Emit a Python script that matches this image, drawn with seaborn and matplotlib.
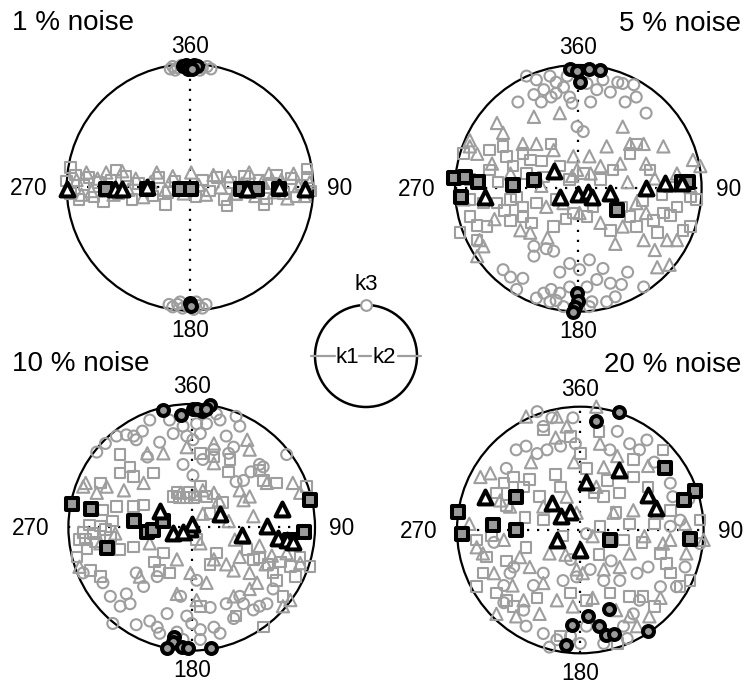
import numpy as np
import matplotlib
matplotlib.use("Agg")
import matplotlib.pyplot as plt
import seaborn as sns
from matplotlib.patches import Circle

# ---------------- data (equal-area projection coordinates, unit circle) ----------------
TITLES = ["1 % noise", "5 % noise", "10 % noise", "20 % noise"]
AZ_TOP, AZ_RIGHT, AZ_BOTTOM, AZ_LEFT = "360", "90", "180", "270"
LEGEND_K1, LEGEND_K2, LEGEND_K3 = "k1", "k2", "k3"

# Panel 1 (1 % noise)
P1_GRAY_CIRCLES = [(-0.14, 0.98), (-0.10, 0.97), (-0.07, 0.99), (-0.03, 0.98), (0.02, 0.97),
                   (0.06, 0.99), (0.10, 0.97), (0.14, 0.98), (-0.12, 0.95), (0.08, 0.95),
                   (0.17, 0.96), (-0.16, 0.96),
                   (-0.14, -0.97), (-0.10, -0.95), (-0.06, -0.98), (-0.02, -0.96), (0.03, -0.99),
                   (0.07, -0.96), (0.10, -0.98), (-0.08, -0.93), (0.05, -0.93), (0.13, -0.95),
                   (-0.17, -0.95)]
P1_GRAY_SQUARES = [(-1.0, 0.05), (-0.97, -0.05), (-0.93, 0.10), (-0.90, -0.10), (-0.86, 0.02),
                   (-0.82, 0.08), (-0.78, -0.08), (-0.74, 0.04), (-0.70, -0.12), (-0.64, 0.06),
                   (-0.58, -0.05), (-0.52, 0.09), (-0.47, -0.10), (-0.42, 0.03), (-0.30, -0.07),
                   (-0.25, 0.08), (-0.18, -0.04), (-0.12, 0.05), (0.05, -0.08), (0.10, 0.06),
                   (0.16, -0.03), (0.22, 0.08), (0.28, -0.10), (0.33, 0.04), (0.38, -0.06),
                   (0.44, 0.09), (0.50, -0.04), (0.56, 0.06), (0.62, -0.09), (0.66, 0.03),
                   (0.70, 0.10), (0.76, -0.05), (0.82, 0.07), (0.86, -0.08), (0.90, 0.02),
                   (0.95, 0.08), (0.98, -0.03), (-0.97, 0.16), (0.95, 0.15), (-0.20, -0.14),
                   (0.30, -0.15), (-0.60, 0.14), (0.60, -0.14)]
P1_GRAY_TRIANGLES = [(-0.98, -0.02), (-0.92, 0.06), (-0.88, -0.06), (-0.84, 0.12), (-0.80, -0.03),
                     (-0.75, 0.07), (-0.68, 0.12), (-0.62, -0.06), (-0.55, 0.13), (-0.50, -0.02),
                     (-0.44, 0.07), (-0.38, -0.08), (-0.32, 0.04), (-0.27, 0.12), (-0.20, -0.02),
                     (-0.14, 0.09), (-0.05, -0.05), (0.01, 0.12), (0.07, 0.02), (0.13, -0.06),
                     (0.19, 0.10), (0.25, 0.00), (0.31, 0.09), (0.36, -0.05), (0.42, 0.03),
                     (0.48, 0.12), (0.53, -0.07), (0.59, 0.05), (0.64, 0.11), (0.68, -0.04),
                     (0.74, 0.06), (0.79, -0.09), (0.84, 0.11), (0.88, 0.01), (0.93, -0.07),
                     (0.97, 0.04)]
P1_BLACK_CIRCLES = [(-0.06, 0.98), (-0.03, 0.99), (0.0, 0.98), (0.03, 0.99), (0.06, 0.98),
                    (-0.02, 0.96), (0.02, 0.96), (0.0, -0.94), (0.01, -0.96)]
P1_BLACK_SQUARES = [(-0.68, -0.01), (-0.35, -0.01), (-0.08, -0.01), (0.01, -0.01), (0.41, -0.01),
                    (0.49, -0.01), (0.54, -0.01), (0.72, -0.01)]
P1_BLACK_TRIANGLES = [(-1.0, -0.01), (-0.61, -0.01), (-0.55, -0.01), (-0.35, 0.0), (0.46, -0.01),
                      (0.72, 0.0), (0.93, -0.01)]

# Panel 2 (5 % noise)
P2_GRAY_CIRCLES = [(-0.42, 0.91), (-0.34, 0.88), (-0.23, 0.91), (-0.18, 0.86), (-0.36, 0.76),
                   (-0.28, 0.80), (-0.22, 0.74), (-0.12, 0.82), (-0.07, 0.74), (-0.05, 0.69),
                   (-0.49, 0.70), (0.20, 0.88), (0.32, 0.86), (0.36, 0.85), (0.45, 0.84),
                   (0.47, 0.74), (0.55, 0.61), (0.15, 0.80), (0.26, 0.78), (0.04, 0.46),
                   (-0.18, 0.77), (0.07, 0.85), (-0.09, 0.91), (-0.01, 0.50),
                   (-0.36, -0.47), (-0.26, -0.49), (-0.20, -0.51), (-0.07, -0.61), (0.09, -0.58),
                   (0.01, -0.66), (-0.36, -0.55), (-0.61, -0.66), (-0.55, -0.72), (-0.45, -0.73),
                   (-0.28, -0.85), (-0.22, -0.82), (-0.15, -0.85), (-0.07, -0.80), (0.07, -0.80),
                   (0.15, -0.74), (0.26, -0.77), (0.35, -0.78), (0.53, -0.80), (-0.34, -0.89),
                   (-0.23, -0.92), (-0.18, -0.91), (0.11, -0.92), (0.23, -0.92), (-0.12, -0.96),
                   (0.09, -0.96), (-0.30, 0.70), (0.10, 0.70), (0.38, 0.70), (-0.15, -0.68),
                   (0.20, -0.65), (0.40, -0.68), (-0.50, -0.82), (0.30, -0.88)]
P2_GRAY_SQUARES = [(-0.72, 0.31), (-0.61, 0.34), (-0.58, 0.26), (-0.45, 0.28), (-0.39, 0.23),
                   (-0.22, 0.36), (-0.72, 0.15), (-0.53, 0.18), (-0.42, 0.12), (-0.28, 0.09),
                   (-0.07, 0.07), (0.04, 0.12), (0.18, 0.07), (0.42, 0.28), (0.47, 0.36),
                   (0.58, 0.15), (0.74, 0.01), (0.91, -0.07), (0.96, -0.09), (0.80, -0.15),
                   (0.69, -0.20), (0.61, -0.26), (0.91, -0.31), (-0.88, -0.09), (-0.77, -0.12),
                   (-0.66, -0.12), (-0.55, -0.09), (-0.45, -0.15), (-0.34, -0.12), (-0.88, -0.23),
                   (-0.74, -0.31), (-0.55, -0.26), (-0.45, -0.23), (-0.20, -0.31), (-0.04, -0.20),
                   (0.07, -0.23), (0.26, -0.34), (0.42, -0.23), (0.47, -0.31), (-0.96, -0.36),
                   (-0.82, -0.42), (0.64, -0.36), (0.85, -0.34), (-0.50, -0.07), (-0.18, -0.09),
                   (-0.88, 0.07), (-0.93, 0.28), (-0.65, 0.05), (-0.60, -0.18), (-0.38, -0.28),
                   (-0.10, -0.25), (0.12, -0.15), (0.35, -0.15), (0.52, -0.10), (0.75, -0.22),
                   (0.68, -0.05), (-0.30, 0.22), (-0.15, 0.18), (0.28, 0.15), (-0.82, -0.30)]
P2_GRAY_TRIANGLES = [(-0.36, 0.58), (-0.15, 0.61), (0.36, 0.50), (-0.66, 0.53), (-0.61, 0.45),
                     (-0.88, 0.34), (-0.82, 0.28), (-0.45, 0.36), (-0.34, 0.36), (-0.20, 0.31),
                     (-0.04, 0.26), (0.09, 0.26), (0.23, 0.34), (0.42, 0.36), (0.53, 0.36),
                     (0.69, 0.34), (-0.01, 0.15), (0.18, 0.18), (0.34, 0.20), (0.55, 0.20),
                     (0.93, 0.23), (0.99, 0.18), (0.47, -0.12), (0.55, -0.20), (-0.47, -0.34),
                     (-0.39, -0.36), (-0.26, -0.15), (-0.12, -0.12), (0.01, -0.20), (0.18, -0.28),
                     (0.36, -0.31), (0.53, -0.42), (0.72, -0.42), (-0.80, -0.42), (-0.77, -0.47),
                     (-0.82, -0.55), (0.64, -0.64), (0.74, -0.62), (0.80, -0.42), (-0.93, -0.09),
                     (-0.88, 0.39), (0.91, 0.01), (-0.55, 0.12), (-0.30, 0.02), (-0.05, 0.10),
                     (0.10, 0.12), (0.40, 0.05), (0.62, 0.08), (0.80, 0.12), (-0.68, -0.25),
                     (-0.25, -0.40), (0.30, -0.45), (0.62, -0.50), (-0.70, 0.20)]
P2_BLACK_CIRCLES = [(-0.07, 0.97), (-0.01, 0.95), (0.09, 0.97), (0.18, 0.96), (0.01, 0.86),
                    (-0.01, -0.85), (0.0, -0.91), (-0.03, -0.96), (-0.04, -1.0)]
P2_BLACK_SQUARES = [(-1.01, 0.08), (-0.92, 0.09), (-0.81, 0.05), (-0.95, -0.07), (-0.53, 0.03),
                    (-0.36, 0.07), (0.31, -0.18), (0.84, 0.05), (0.89, 0.05)]
P2_BLACK_TRIANGLES = [(-0.76, -0.07), (-0.20, 0.14), (-0.15, -0.07), (0.0, -0.05), (0.08, -0.03),
                      (0.11, -0.07), (0.26, -0.04), (0.55, 0.0), (0.70, 0.04), (0.84, 0.04)]

# Panel 3 (10 % noise)
P3_GRAY_CIRCLES = [(-0.77, 0.61), (-0.61, 0.74), (-0.53, 0.75), (-0.47, 0.74), (-0.45, 0.71),
                   (-0.34, 0.87), (-0.36, 0.57), (-0.07, 0.51), (-0.15, 0.76), (-0.07, 0.82),
                   (-0.04, 0.74), (0.04, 0.84), (0.07, 0.76), (0.12, 0.84), (0.20, 0.92),
                   (0.23, 0.87), (0.28, 0.74), (0.36, 0.90), (0.39, 0.82), (0.18, 0.63),
                   (0.09, 0.55), (0.34, 0.65), (0.58, 0.49), (0.77, 0.59), (0.42, 0.38),
                   (0.01, 0.71), (-0.18, 0.87), (-0.26, 0.69), (0.01, 0.42),
                   (-0.39, -0.48), (-0.53, -0.54), (-0.66, -0.56), (-0.58, -0.64), (-0.50, -0.62),
                   (-0.64, -0.78), (-0.45, -0.79), (-0.34, -0.76), (-0.28, -0.81), (-0.09, -0.56),
                   (-0.04, -0.72), (0.0, -0.78), (0.07, -0.83), (0.18, -0.81), (0.23, -0.86),
                   (0.34, -0.74), (0.42, -0.62), (0.50, -0.67), (0.55, -0.64), (0.61, -0.62),
                   (0.39, -0.56), (0.04, -0.43), (-0.28, -0.40), (-0.45, -0.37), (-0.88, -0.37),
                   (0.07, -0.91), (-0.07, -0.91), (-0.26, -0.86), (0.36, 0.37), (0.55, 0.51),
                   (-0.70, 0.68), (-0.40, 0.78), (0.30, 0.60), (0.48, 0.45), (-0.20, -0.70),
                   (0.15, -0.65), (0.28, -0.62), (-0.72, -0.45), (0.66, -0.50), (-0.12, -0.85)]
P3_GRAY_SQUARES = [(-0.58, 0.59), (-0.50, 0.49), (-0.58, 0.44), (-0.47, 0.41), (-0.31, 0.44),
                   (-0.74, 0.36), (-0.72, 0.14), (-0.88, -0.04), (-0.91, -0.10), (-0.85, -0.17),
                   (-0.80, -0.05), (-0.74, 0.01), (-0.66, -0.08), (-0.58, -0.18), (-0.47, -0.16),
                   (-0.93, -0.24), (-0.82, -0.35), (-0.74, -0.40), (-0.23, -0.21), (-0.26, -0.35),
                   (-0.18, -0.37), (-0.12, 0.28), (-0.04, 0.24), (0.07, 0.33), (0.12, 0.25),
                   (0.07, 0.60), (0.18, 0.57), (0.31, 0.55), (0.55, 0.46), (0.58, 0.38),
                   (0.69, 0.36), (0.93, 0.33), (0.15, 0.11), (0.04, -0.10), (0.20, -0.21),
                   (0.45, -0.18), (0.50, -0.26), (0.66, -0.37), (0.69, -0.43), (0.80, -0.32),
                   (0.96, -0.32), (0.88, -0.24), (0.74, -0.56), (0.58, -0.81), (0.36, -0.72),
                   (0.07, -0.64), (-0.15, 0.25), (-0.47, 0.17), (-0.61, 0.17), (-0.39, 0.18),
                   (-0.83, 0.02), (-0.78, -0.12), (-0.70, -0.02), (-0.64, 0.05), (-0.86, -0.10),
                   (-0.10, 0.24), (-0.02, 0.28), (0.02, 0.24), (0.25, 0.20), (0.55, -0.25),
                   (0.62, -0.30), (0.72, -0.28), (0.84, -0.40), (0.30, 0.45), (-0.30, -0.28),
                   (0.15, -0.30)]
P3_GRAY_TRIANGLES = [(-0.36, 0.60), (-0.23, 0.60), (-0.04, 0.65), (0.18, 0.68), (0.18, 0.52),
                     (0.45, 0.71), (0.47, 0.63), (-0.86, 0.36), (-0.77, 0.28), (-0.69, 0.33),
                     (-0.39, 0.36), (-0.09, 0.28), (0.09, 0.30), (0.18, 0.28), (0.39, 0.30),
                     (0.42, 0.22), (0.47, 0.25), (0.61, 0.36), (0.82, 0.36), (0.88, 0.28),
                     (0.09, 0.11), (0.50, 0.09), (-0.34, -0.13), (0.07, -0.13), (0.18, -0.26),
                     (0.34, -0.35), (0.39, -0.24), (0.47, -0.37), (0.53, -0.45), (0.77, -0.21),
                     (0.88, -0.29), (-0.12, -0.26), (-0.42, -0.40), (-0.01, -0.37), (-0.12, -0.54),
                     (0.04, -0.59), (0.34, -0.56), (0.47, -0.50), (0.74, -0.64), (0.80, -0.59),
                     (-0.91, -0.32), (-0.88, 0.33), (-0.74, -0.13), (0.03, 0.27), (0.22, 0.22),
                     (0.30, 0.05), (0.55, -0.15), (0.60, -0.30), (0.65, -0.23), (0.28, -0.30),
                     (-0.55, 0.30), (-0.62, -0.05), (-0.80, 0.15), (0.35, -0.10), (0.12, -0.45)]
P3_BLACK_CIRCLES = [(-0.23, 0.95), (-0.09, 0.91), (0.01, 0.96), (0.08, 0.94), (0.15, 0.99),
                    (0.04, 0.96), (0.12, 0.96), (-0.14, -0.89), (-0.15, -0.93), (-0.20, -0.98),
                    (-0.08, -0.97), (-0.03, -0.98), (0.16, -0.98)]
P3_BLACK_SQUARES = [(-0.97, 0.19), (-0.82, 0.15), (-0.47, 0.05), (-0.36, -0.04), (-0.31, -0.02),
                    (-0.69, -0.17), (0.96, 0.22), (0.91, -0.04), (0.80, -0.10), (-0.23, 0.05)]
P3_BLACK_TRIANGLES = [(-0.26, 0.13), (-0.15, -0.05), (-0.01, -0.01), (0.0, 0.03), (0.23, 0.11),
                      (0.41, -0.06), (0.61, 0.01), (0.73, 0.15), (0.70, -0.09), (0.77, -0.10),
                      (0.82, -0.12), (-0.07, -0.04)]

# Panel 4 (20 % noise)
P4_GRAY_CIRCLES = [(-0.35, 0.96), (-0.23, 0.91), (-0.30, 0.84), (-0.06, 0.91), (-0.52, 0.65),
                   (-0.44, 0.68), (-0.35, 0.62), (-0.27, 0.65), (-0.16, 0.68), (-0.04, 0.70),
                   (0.40, 0.70), (0.48, 0.65), (0.54, 0.73), (0.24, 0.65), (0.73, 0.38),
                   (0.75, 0.27), (0.81, 0.08), (0.97, -0.11), (-0.54, -0.30), (-0.57, -0.35),
                   (-0.30, -0.35), (-0.14, -0.41), (-0.03, -0.38), (0.08, -0.32), (0.19, -0.41),
                   (0.32, -0.41), (0.46, -0.35), (0.65, -0.46), (0.78, -0.46), (-0.62, -0.59),
                   (-0.46, -0.65), (-0.44, -0.78), (-0.30, -0.84), (-0.19, -0.89), (-0.08, -0.86),
                   (0.05, -0.78), (0.35, -0.78), (0.43, -0.68), (0.48, -0.57), (-0.25, -0.95),
                   (0.19, -0.92), (0.05, -0.03), (-0.08, -0.24), (0.73, 0.03), (-0.60, 0.50),
                   (0.30, 0.80), (0.60, 0.55), (0.88, 0.25), (-0.70, -0.10), (-0.62, -0.45),
                   (0.25, -0.25), (0.55, -0.30), (0.85, -0.30), (-0.38, -0.45), (0.0, -0.92),
                   (0.38, -0.88)]
P4_GRAY_SQUARES = [(-0.30, 0.81), (-0.08, 0.76), (0.0, 0.62), (-0.54, 0.43), (-0.62, 0.38),
                   (-0.68, 0.30), (-0.46, 0.35), (-0.33, 0.27), (-0.16, 0.35), (0.11, 0.30),
                   (0.19, 0.27), (0.32, 0.30), (0.43, 0.43), (0.43, 0.57), (0.67, 0.65),
                   (0.73, 0.16), (0.97, 0.08), (-0.84, -0.08), (-0.76, -0.22), (-0.79, -0.35),
                   (-0.84, -0.46), (-0.68, -0.51), (-0.60, -0.57), (-0.54, -0.62), (-0.44, -0.14),
                   (-0.14, -0.05), (0.16, 0.03), (0.29, 0.14), (0.40, 0.05), (0.35, -0.08),
                   (0.65, -0.19), (0.70, -0.27), (0.73, -0.35), (0.89, -0.41), (0.81, -0.46),
                   (0.51, -0.54), (0.40, -0.54), (-0.08, -0.51), (0.24, -0.51), (0.05, -0.57),
                   (-0.16, -0.86), (0.30, -0.92), (-0.30, 0.08), (-0.41, 0.41), (-0.60, 0.20),
                   (-0.45, 0.10), (-0.20, 0.45), (0.05, 0.50), (0.22, 0.40), (0.55, 0.35),
                   (0.60, 0.05), (0.50, -0.10), (-0.60, -0.25), (-0.35, -0.55), (0.15, -0.20),
                   (0.60, -0.62), (-0.72, -0.05), (0.15, 0.80)]
P4_GRAY_TRIANGLES = [(0.13, 1.0), (-0.44, 0.92), (-0.19, 0.92), (-0.11, 0.84), (0.16, 0.70),
                     (0.19, 0.51), (0.13, 0.35), (-0.81, 0.43), (-0.73, 0.46), (-0.65, 0.24),
                     (-0.57, 0.19), (-0.30, 0.19), (-0.11, 0.27), (-0.03, 0.14), (0.27, 0.14),
                     (0.43, 0.16), (0.62, 0.14), (-0.84, -0.14), (-0.79, -0.19), (-0.62, -0.08),
                     (-0.49, -0.22), (-0.41, -0.30), (-0.25, -0.19), (0.02, -0.35), (-0.03, -0.32),
                     (0.19, -0.32), (0.32, -0.30), (0.40, -0.19), (0.67, -0.11), (0.73, -0.08),
                     (1.0, -0.08), (-0.68, -0.68), (-0.52, -0.70), (-0.46, -0.57), (-0.30, -0.43),
                     (-0.19, -0.57), (-0.06, -0.62), (0.29, -0.65), (0.40, -0.70), (0.46, -0.78),
                     (0.56, -0.70), (-0.33, -0.68), (0.86, -0.19), (-0.40, 0.55), (-0.05, 0.55),
                     (0.30, 0.60), (0.55, 0.52), (-0.90, 0.05), (-0.70, -0.35), (-0.12, -0.20),
                     (0.10, -0.05), (0.52, -0.05), (0.85, 0.05), (-0.55, -0.45), (0.65, -0.55),
                     (0.10, -0.55), (-0.20, 0.75)]
P4_BLACK_CIRCLES = [(0.13, 0.88), (0.31, 0.96), (0.23, -0.64), (0.06, -0.70), (-0.07, -0.77),
                    (0.15, -0.78), (0.21, -0.85), (0.27, -0.84), (-0.12, -0.93), (0.55, -0.82)]
P4_BLACK_SQUARES = [(-0.99, 0.15), (-0.96, -0.03), (-0.71, 0.04), (-0.52, 0.0), (-0.52, 0.27),
                    (0.24, -0.08), (0.69, 0.50), (0.93, 0.32), (0.84, 0.24), (0.89, -0.07)]
P4_BLACK_TRIANGLES = [(-0.77, 0.27), (-0.23, 0.22), (-0.08, 0.15), (-0.16, 0.11), (0.05, 0.39),
                      (0.31, 0.49), (0.55, 0.28), (0.61, 0.18), (-0.19, -0.08), (0.0, -0.16)]

# ---------------- layout / style ----------------
W, H, DPI = 745, 686, 100
GRAY = "#9e9e9e"
FILL = "#9a9a9a"
LIM = 1.35
R_PX = 123.3
CENTERS = [(190.0, 187.3), (578.3, 188.3), (191.7, 527.3), (580.3, 530.0)]

sns.set_style("white")
plt.rcParams["font.family"] = ["Liberation Sans", "DejaVu Sans"]
plt.rcParams["text.color"] = "black"

fig = plt.figure(figsize=(W / DPI, H / DPI), dpi=DPI)


def make_axes(cx, cy, r, lim):
    half = lim * r
    ax = fig.add_axes([(cx - half) / W, (H - cy - half) / H, 2 * half / W, 2 * half / H])
    ax.set_xlim(-lim, lim)
    ax.set_ylim(-lim, lim)
    ax.axis("off")
    return ax


def xy(points):
    arr = np.array(points, dtype=float)
    return arr[:, 0], arr[:, 1]


def draw_panel(ax, gc, gs, gt, bc, bs, bt):
    ax.add_patch(Circle((0, 0), 1, fill=False, lw=1.6, ec="black", zorder=1))
    dot = (0, (1, 3.5))
    ax.plot([0, 0], [-1, 1], ls=dot, color="black", lw=1.6, zorder=1.5)
    ax.plot([-1, 1], [0, 0], ls=dot, color="black", lw=1.6, zorder=1.5)
    for pts, m, s in [(gs, "s", 58), (gt, "^", 78), (gc, "o", 62)]:
        x, y = xy(pts)
        sns.scatterplot(x=x, y=y, marker=m, s=s, facecolor="none", edgecolor=GRAY,
                        linewidth=1.5, ax=ax, zorder=2, legend=False)
    for pts, m, s, fc in [(bc, "o", 62, FILL), (bs, "s", 74, FILL), (bt, "^", 100, "white")]:
        x, y = xy(pts)
        sns.scatterplot(x=x, y=y, marker=m, s=s, facecolor=fc, edgecolor="black",
                        linewidth=2.9, ax=ax, zorder=3, legend=False)
    fs = 16.3
    ax.text(0, 1.09, AZ_TOP, ha="center", va="baseline", fontsize=fs)
    ax.text(0, -1.215, AZ_BOTTOM, ha="center", va="baseline", fontsize=fs)
    ax.text(-1.155, -0.063, AZ_LEFT, ha="right", va="baseline", fontsize=fs)
    ax.text(1.115, -0.063, AZ_RIGHT, ha="left", va="baseline", fontsize=fs)


panels = [
    (P1_GRAY_CIRCLES, P1_GRAY_SQUARES, P1_GRAY_TRIANGLES, P1_BLACK_CIRCLES, P1_BLACK_SQUARES, P1_BLACK_TRIANGLES),
    (P2_GRAY_CIRCLES, P2_GRAY_SQUARES, P2_GRAY_TRIANGLES, P2_BLACK_CIRCLES, P2_BLACK_SQUARES, P2_BLACK_TRIANGLES),
    (P3_GRAY_CIRCLES, P3_GRAY_SQUARES, P3_GRAY_TRIANGLES, P3_BLACK_CIRCLES, P3_BLACK_SQUARES, P3_BLACK_TRIANGLES),
    (P4_GRAY_CIRCLES, P4_GRAY_SQUARES, P4_GRAY_TRIANGLES, P4_BLACK_CIRCLES, P4_BLACK_SQUARES, P4_BLACK_TRIANGLES),
]

for (cx, cy), groups in zip(CENTERS, panels):
    ax = make_axes(cx, cy, R_PX, LIM)
    draw_panel(ax, *groups)

# titles
tfs = 20
fig.text(12 / W, 1 - 30.0 / H, TITLES[0], ha="left", va="baseline", fontsize=tfs)
fig.text(741.0 / W, 1 - 31.0 / H, TITLES[1], ha="right", va="baseline", fontsize=tfs)
fig.text(12 / W, 1 - 371.0 / H, TITLES[2], ha="left", va="baseline", fontsize=tfs)
fig.text(741.0 / W, 1 - 371.5 / H, TITLES[3], ha="right", va="baseline", fontsize=tfs)

# key circle
lax = make_axes(366.0, 356.0, 51.0, 1.4)
lax.add_patch(Circle((0, 0), 1, fill=False, lw=1.8, ec="black", zorder=1))
for x0, x1 in [(-1.08, -0.60), (-0.13, 0.10), (0.62, 1.08)]:
    lax.plot([x0, x1], [0, 0], color=GRAY, lw=1.6, zorder=2)
sns.scatterplot(x=[0.0], y=[1.0], marker="o", s=60, facecolor="white", edgecolor=GRAY,
                linewidth=1.5, ax=lax, zorder=3, legend=False)
lax.text(-0.36, -0.02, LEGEND_K1, ha="center", va="center", fontsize=16)
lax.text(0.36, -0.02, LEGEND_K2, ha="center", va="center", fontsize=16)
lax.text(0.0, 1.2, LEGEND_K3, ha="center", va="bottom", fontsize=16)

fig.savefig("out.png", dpi=DPI)
